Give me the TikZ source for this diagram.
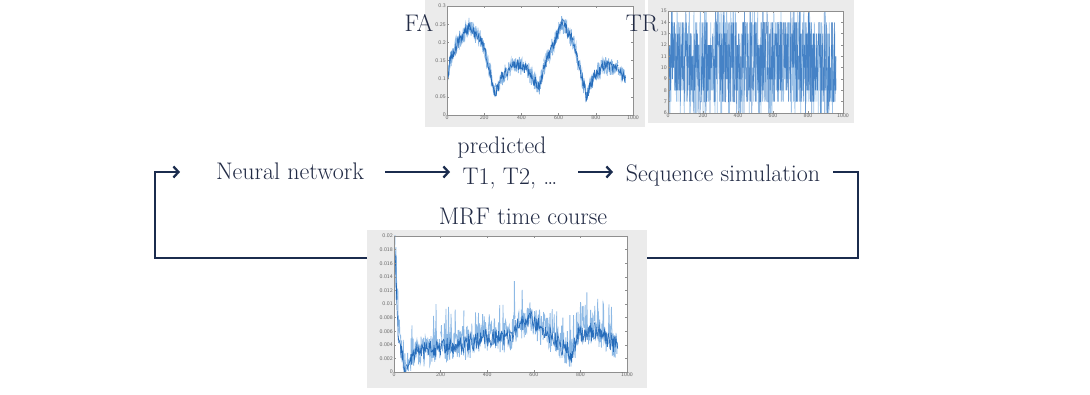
\documentclass[tikz,border=0pt]{standalone}
\usetikzlibrary{arrows.meta}
\definecolor{txt}{HTML}{222B45}
\definecolor{navy}{HTML}{1B2C4E}
\definecolor{panelgray}{HTML}{EBEBEB}
\definecolor{bluedark}{HTML}{0A58B0}
\definecolor{bluelight}{HTML}{5E9CDA}
\definecolor{axgray}{HTML}{8F8F8F}
\begin{document}
\begin{tikzpicture}[x=1pt,y=-1pt,
  lbl/.style={text=txt, font=\fontsize{24}{28}\selectfont, inner sep=0pt, anchor=base},
  conn/.style={draw=navy, line width=2.7pt, line join=miter},
  tip/.style={-{Straight Barb[length=5pt,width=11pt,line width=2.3pt]}},
  panelbox/.style={fill=panelgray, draw=none, inner sep=0pt, outer sep=0pt, anchor=north west},
  ticklbl/.style={font=\sffamily\fontsize{5.5}{6}\selectfont, text=black!60, inner sep=1pt},
  axisline/.style={draw=axgray, line width=0.5pt},
  light/.style={draw=bluelight, line width=0.8pt, opacity=0.7},
  dark/.style={draw=bluedark, line width=0.7pt, opacity=0.8}
]
\useasboundingbox (0,0) rectangle (1090,395);
\pgfmathsetseed{4242}

% ---------------- panels
\node[panelbox, minimum width=220pt, minimum height=127pt] (fapanel) at (425,0) {};
\node[panelbox, minimum width=206pt, minimum height=123pt] (trpanel) at (648,0) {};
\node[panelbox, minimum width=280pt, minimum height=158pt] (mrf) at (367,230) {};

% ---------------- FA plot
\begin{scope}[shift={(447,115)}, x=0.186pt, y=363pt]
  \fill[white] (0,0) rectangle (1000,0.3);
  \begin{scope}
    \clip (0,0) rectangle (1000,0.3);
    \foreach \ta/\va/\tb/\vb in {0/0.085/15/0.15, 15/0.15/60/0.2, 60/0.2/120/0.245, 120/0.245/190/0.2,
      190/0.2/260/0.06, 260/0.06/300/0.11, 300/0.11/370/0.14, 370/0.14/430/0.125, 430/0.125/495/0.075,
      495/0.075/520/0.13, 520/0.13/560/0.18, 560/0.18/620/0.255, 620/0.255/680/0.2, 680/0.2/750/0.05,
      750/0.05/790/0.11, 790/0.11/850/0.135, 850/0.135/920/0.125, 920/0.125/960/0.1} {
      \pgfmathtruncatemacro\nsl{(\tb-\ta)/2.0+2}
      \pgfmathtruncatemacro\nsd{(\tb-\ta)/2.8+2}
      \draw[light] plot[domain=\ta:\tb, samples=\nsl] (\x, {\va+(\vb-\va)*(\x-\ta)/(\tb-\ta)+0.026*rand});
      \draw[dark] plot[domain=\ta:\tb, samples=\nsd] (\x, {\va+(\vb-\va)*(\x-\ta)/(\tb-\ta)+0.015*rand});
    }
  \end{scope}
  \draw[axisline] (0,0) rectangle (1000,0.3);
  \foreach \t in {0,200,400,600,800,1000} {
    \draw[axisline] (\t,0) -- ++(0,0.006);
    \draw[axisline] (\t,0.3) -- ++(0,-0.006);
    \node[ticklbl, below] at (\t,0) {\t};
  }
  \foreach \v in {0,0.05,0.1,0.15,0.2,0.25,0.3} {
    \draw[axisline] (0,\v) -- ++(10,0);
    \draw[axisline] (1000,\v) -- ++(-10,0);
    \node[ticklbl, left] at (0,\v) {\v};
  }
\end{scope}

% ---------------- TR plot
\begin{scope}[shift={(668,113)}, x=0.175pt, y=11.33pt]
  \fill[white] (0,0) rectangle (1000,9);
  \begin{scope}
    \clip (0,0) rectangle (1000,9);
    \draw[draw=bluelight, line width=0.75pt, opacity=0.6] plot[domain=0:960, samples=520] (\x, {round(4.5+4.7*rand)});
    \draw[draw=bluedark, line width=0.7pt, opacity=0.6] plot[domain=0:960, samples=520] (\x, {round(4.5+4.2*rand)});
  \end{scope}
  \draw[axisline] (0,0) rectangle (1000,9);
  \foreach \t in {0,200,400,600,800,1000} {
    \draw[axisline] (\t,0) -- ++(0,0.2);
    \draw[axisline] (\t,9) -- ++(0,-0.2);
    \node[ticklbl, below] at (\t,0) {\t};
  }
  \foreach \v in {6,...,15} {
    \draw[axisline] (0,\v-6) -- ++(10,0);
    \draw[axisline] (1000,\v-6) -- ++(-10,0);
    \node[ticklbl, left] at (0,\v-6) {\v};
  }
\end{scope}

% ---------------- MRF plot
\begin{scope}[shift={(394,372)}, x=0.233pt, y=6.8pt]
  \fill[white] (0,0) rectangle (1000,20);
  \begin{scope}
    \clip (0,0) rectangle (1000,20);
    \foreach \ta/\va/\tb/\vb in {0/7/5/18, 5/18/10/12, 10/12/18/6, 18/6/30/3, 30/3/50/0.4, 50/0.4/70/1.5,
      70/1.5/100/3, 100/3/200/3.5, 200/3.5/300/4, 300/4/400/5, 400/5/500/5, 500/5/520/6.5,
      520/6.5/580/8, 580/8/640/6, 640/6/700/4.5, 700/4.5/760/2.5, 760/2.5/790/5.5, 790/5.5/860/6, 860/6/960/4} {
      \pgfmathtruncatemacro\nsl{(\tb-\ta)/1.8+2}
      \pgfmathtruncatemacro\nsd{(\tb-\ta)/2.6+2}
      \draw[light] plot[domain=\ta:\tb, samples=\nsl] (\x, {\va+(\vb-\va)*(\x-\ta)/(\tb-\ta)+2.4*rand*min(1,0.3+\va/3)+5*rnd^8});
      \draw[dark] plot[domain=\ta:\tb, samples=\nsd] (\x, {\va+(\vb-\va)*(\x-\ta)/(\tb-\ta)+1.4*rand*min(1,0.3+\va/3)});
    }
  \end{scope}
  \draw[axisline] (0,0) rectangle (1000,20);
  \foreach \t in {0,200,400,600,800,1000} {
    \draw[axisline] (\t,0) -- ++(0,0.3);
    \draw[axisline] (\t,20) -- ++(0,-0.3);
    \node[ticklbl, below] at (\t,0) {\t};
  }
  \foreach \v/\l in {0/0,2/0.002,4/0.004,6/0.006,8/0.008,10/0.01,12/0.012,14/0.014,16/0.016,18/0.018,20/0.02} {
    \draw[axisline] (0,\v) -- ++(10,0);
    \draw[axisline] (1000,\v) -- ++(-10,0);
    \node[ticklbl, left] at (0,\v) {\l};
  }
\end{scope}

% ---------------- labels
\node[lbl] (falbl) at (419,32) {FA};
\node[lbl] (trlbl) at (642,32) {TR};
\node[lbl] (nn) at (290,180) {Neural network};
\node[lbl] (pred1) at (502,154) {predicted};
\node[lbl] (pred2) at (510,185) {T1, T2, \ldots};
\node[lbl] (seq) at (723,182) {Sequence simulation};
\node[lbl] (mrflbl) at (523,225) {MRF time course};

% ---------------- connectors
\coordinate (nnout) at (385,172);
\coordinate (predin) at (450,172);
\coordinate (predout) at (578,172);
\coordinate (seqin) at (613,172);
\coordinate (seqout) at (833,172);
\coordinate (rc1) at (858,172);
\coordinate (rc2) at (858,258);
\coordinate (lc1) at (155,258);
\coordinate (lc2) at (155,172);
\coordinate (nnin) at (180,172);

\draw[conn, tip] (nnout) -- (predin);
\draw[conn, tip] (predout) -- (seqin);
\draw[conn] (seqout) -- (rc1) -- (rc2) -- (mrf.east |- rc2);
\draw[conn, tip] (mrf.west |- lc1) -- (lc1) -- (lc2) -- (nnin);
\end{tikzpicture}
\end{document}
